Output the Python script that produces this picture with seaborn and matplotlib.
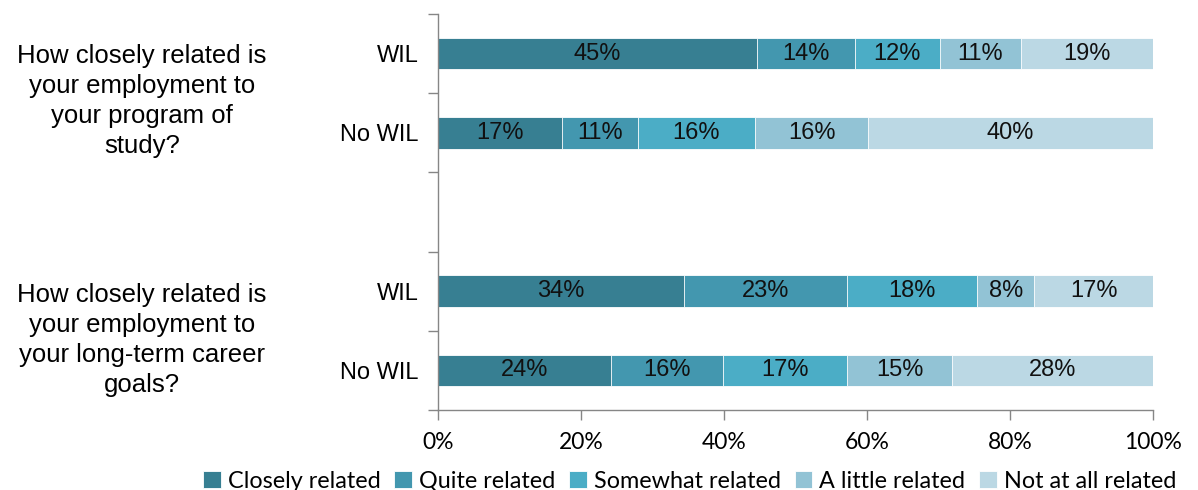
import numpy as np
import pandas as pd
import matplotlib
matplotlib.use("Agg")
import matplotlib.pyplot as plt
import seaborn as sns

# ---- data ----
categories = ["Closely related", "Quite related", "Somewhat related", "A little related", "Not at all related"]
row_ids = ["Q1 WIL", "Q1 No WIL", "gap", "Q2 WIL", "Q2 No WIL"]
row_labels = ["WIL", "No WIL", "", "WIL", "No WIL"]
questions = ["How closely related is\nyour employment to\nyour program of\nstudy?",
             "How closely related is\nyour employment to\nyour long-term career\ngoals?"]
closely = [44.6, 17.4, 34.4, 24.2]
quite = [13.7, 10.6, 22.8, 15.7]
somewhat = [11.9, 16.3, 18.2, 17.3]
a_little = [11.3, 15.9, 8.0, 14.7]
not_at_all = [18.5, 39.8, 16.6, 28.1]
label_values = [[45, 17, 34, 24], [14, 11, 23, 16], [12, 16, 18, 17], [11, 16, 8, 15], [19, 40, 17, 28]]
xticks = [0, 20, 40, 60, 80, 100]

colors = ["#377F92", "#4397AF", "#4BADC6", "#92C3D5", "#BBD8E4"]

series = [closely, quite, somewhat, a_little, not_at_all]
data_rows = [r for r in row_ids if r != "gap"]
cum = np.cumsum(np.array(series), axis=0)

sns.set_theme(style="white")
plt.rcParams['font.family'] = ['Liberation Sans', 'DejaVu Sans']
plt.rcParams['text.color'] = 'black'
plt.rcParams['xtick.labelcolor'] = 'black'
plt.rcParams['ytick.labelcolor'] = 'black'

fig = plt.figure(figsize=(11.98, 4.90), dpi=100)
ax = fig.add_axes([0.3656, 0.1633, 0.9624 - 0.3656, 0.9714 - 0.1633])

# draw cumulative bars from largest to smallest so each segment shows
for k in range(len(categories) - 1, -1, -1):
    df = pd.DataFrame({"row": data_rows, "value": cum[k]})
    sns.barplot(data=df, x="value", y="row", order=row_ids, orient="h",
                color=colors[k], width=0.4, ax=ax, label=categories[k],
                edgecolor="white", linewidth=0.6, saturation=1)

handles, labels = ax.get_legend_handles_labels()
if ax.get_legend() is not None:
    ax.get_legend().remove()

# segment labels
for k in range(len(categories)):
    for i, r in enumerate(data_rows):
        ypos = row_ids.index(r)
        left = cum[k][i] - series[k][i]
        ax.text(left + series[k][i] / 2, ypos, f"{label_values[k][i]}%",
                ha="center", va="center", fontsize=17, color="#111111")

ax.set_xlim(0, 100)
ax.set_ylim(4.5, -0.5)
ax.set_xticks(xticks)
ax.set_xticklabels([f"{v}%" for v in xticks], fontsize=16.5, family=["Lato", "DejaVu Sans"])
ax.set_yticks(np.arange(-0.5, 5.0, 1.0))
ax.set_yticklabels([])
ax.set_yticks([0, 1, 3, 4], minor=True)
ax.set_yticklabels([row_labels[i] for i in [0, 1, 3, 4]], minor=True, fontsize=17)
ax.tick_params(axis="y", which="minor", length=0, pad=14)
ax.tick_params(axis="y", which="major", length=7, width=1, color="#868686", direction="out", left=True)
ax.tick_params(axis="x", length=7, width=1, color="#868686", direction="out", bottom=True, pad=9)
ax.set_xlabel("")
ax.set_ylabel("")
for s in ["top", "right"]:
    ax.spines[s].set_visible(False)
for s in ["left", "bottom"]:
    ax.spines[s].set_color("#868686")
    ax.spines[s].set_linewidth(1)
ax.grid(False)

# question labels
fig.text(142 / 1198, 1 - 101 / 490, questions[0], ha="center", va="center",
         fontsize=18.5, linespacing=1.3)
fig.text(142 / 1198, 1 - 340 / 490, questions[1], ha="center", va="center",
         fontsize=18.5, linespacing=1.3)

# legend
order = [labels.index(c) for c in categories]
leg = fig.legend([handles[i] for i in order], [labels[i] for i in order],
                 loc="center left", bbox_to_anchor=(203 / 1198, 1 - 481 / 490),
                 ncol=5, frameon=False, handlelength=0.75, handleheight=0.75,
                 handletextpad=0.3, columnspacing=0.6, borderaxespad=0, borderpad=0,
                 prop={"family": ["Lato", "DejaVu Sans"], "size": 16.8})

fig.savefig("out.png", dpi=100)
